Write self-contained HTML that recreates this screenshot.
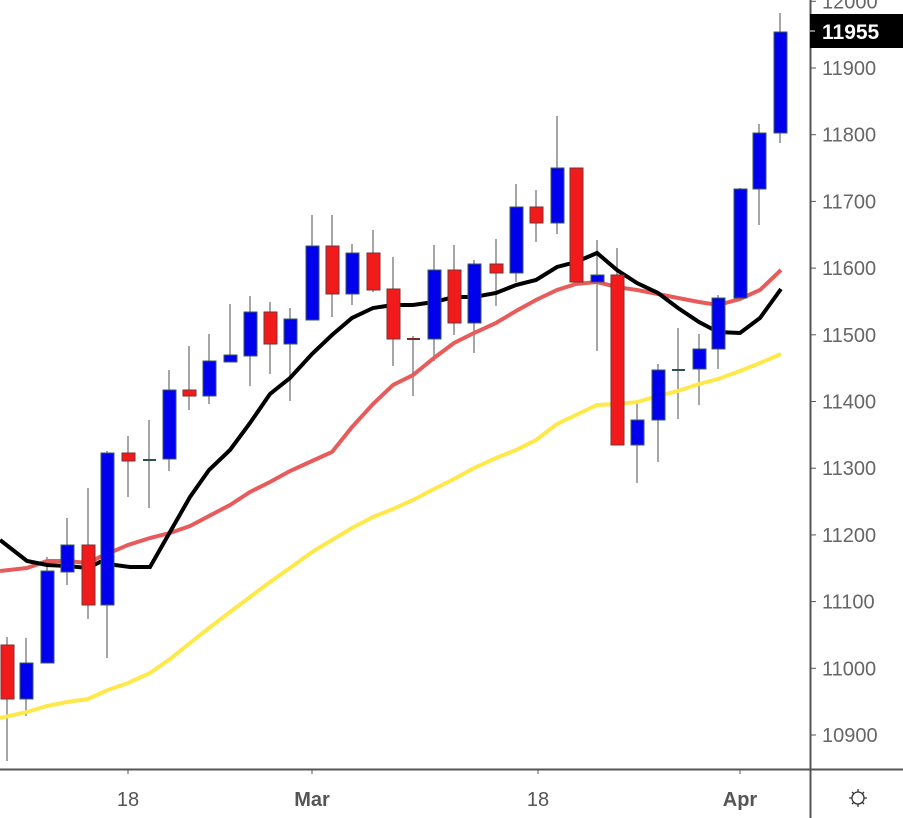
<!DOCTYPE html>
<html><head><meta charset="utf-8"><style>
body{margin:0;background:#fff;width:903px;height:818px;overflow:hidden}
svg{display:block;font-family:"Liberation Sans",sans-serif}
</style></head><body>
<svg id="s" width="903" height="818" viewBox="0 0 903 818" xmlns="http://www.w3.org/2000/svg">
<g id="c"></g>
<polyline fill="none" stroke="#ffe94a" stroke-width="4" points="0,718 27,712 47,706 67,702 88,699 108,690 128,683 150,673 170,659 190,643 209,628 230,612 250,597 270,582 290,568 312,552 332,540 352,528 373,517 393,509 413,500 434,489 454,479 474,468 496,458 516,450 536,440 557,424 576,415 597,405 617,404 637,402 658,396 678,391 699,384 718,379 740,371 760,363 781,354"/>
<polyline fill="none" stroke="#e85b5b" stroke-width="4" points="0,571 27,568 47,561 67,561 88,563 100,557 128,545 150,538 170,533 190,526 209,516 230,505 250,492 270,482 290,471 312,461 332,452 352,427 373,404 393,385 413,375 434,358 454,343 474,333 496,323 516,311 536,300 557,290 576,284 597,282 617,287 637,290 658,294 678,298 699,302 718,305 740,299 760,290 781,270"/>
<polyline fill="none" stroke="#000" stroke-width="4" points="0,540 27,561 47,565 67,566 88,568 100,562 115,565 130,567 150,567 170,532 190,497 209,470 230,450 250,423 270,394 290,378 312,354 332,335 352,318 373,308 393,305 413,305 434,302 454,297 474,297 496,293 516,285 536,280 557,267 576,262 597,253 617,270 637,283 658,293 678,308 699,322 718,332 740,333 760,318 781,289"/>
<g id="d"></g>
<line x1="0" y1="769.5" x2="903" y2="769.5" stroke="#555" stroke-width="2"/>
<line x1="810.5" y1="0" x2="810.5" y2="818" stroke="#555" stroke-width="2"/>
<g id="ax" fill="#666" font-size="20"></g>
<rect x="810" y="14" width="93" height="34" fill="#000"/>
<text x="822" y="39" fill="#fff" font-size="21" font-weight="bold">11955</text>
<line x1="810" y1="31" x2="815" y2="31" stroke="#fff"/>
<g fill="#555" font-size="20" font-weight="bold" text-anchor="middle">
<text x="128" y="806" font-weight="normal">18</text>
<text x="312" y="806">Mar</text>
<text x="538" y="806" font-weight="normal">18</text>
<text x="740" y="806">Apr</text>
</g>
<g stroke="#555"><line x1="128" y1="770" x2="128" y2="774"/><line x1="312" y1="770" x2="312" y2="774"/><line x1="538" y1="770" x2="538" y2="774"/><line x1="740" y1="770" x2="740" y2="774"/></g>
<g stroke="#333" stroke-width="1.3" fill="none"><circle cx="858" cy="798" r="6"/>
<path d="M858 789v3M858 804v3M849 798h3M864 798h3M852 792l2 2M862 802l2 2M864 792l-2 2M852 804l2-2"/></g>
</svg>
<script>
var C=[[7,'r',645,699,637,761],[26,'b',663,699,638,716],[47,'b',571,663,557,663],[67,'b',545,572,518,585],[88,'r',545,605,488,619],[107,'b',453,605,451,658],[128,'r',453,461,436,497],[149,'d',460,460,420,508],[169,'b',390,459,370,471],[189,'r',390,396,346,410],[209,'b',361,396,334,404],[230,'b',355,362,304,362],[250,'b',312,356,296,386],[270,'r',312,344,302,374],[290,'b',319,344,308,401],[312,'b',246,320,215,320],[332,'r',246,294,215,317],[352,'b',253,294,244,305],[373,'r',253,290,230,292],[393,'r',289,339,257,366],[413,'dr',339,339,336,396],[434,'b',270,339,245,361],[454,'r',270,323,245,335],[474,'b',264,323,260,353],[496,'r',264,273,239,306],[516,'b',207,273,184,282],[536,'r',207,223,190,242],[557,'b',168,223,116,234],[576,'r',168,282,168,282],[597,'b',275,282,240,351],[617,'r',275,445,248,445],[637,'b',420,445,402,483],[658,'b',370,420,364,462],[678,'d',370,370,328,419],[699,'b',349,369,334,405],[718,'b',298,349,295,369],[740,'b',189,298,188,298],[759,'b',133,189,124,225],[780,'b',32,133,13,143]];
var g=document.getElementById('c'),d=document.getElementById('d'),h='',h2='';
C.forEach(function(c){var x=c[0];h+='<line x1="'+x+'" x2="'+x+'" y1="'+c[4]+'" y2="'+c[5]+'" stroke="#888" stroke-width="1.5"/>';
if(c[1][0]=='d'){h2+='<rect x="'+(x-6)+'" y="'+(c[2]-1)+'" width="13" height="2" fill="'+(c[1]=='dr'?'#7a2a2a':'#2d5050')+'"/>';}
else{h2+='<rect x="'+(x-6)+'" y="'+c[2]+'" width="13" height="'+Math.max(2,c[3]-c[2])+'" fill="'+(c[1]=='r'?'#f21b1b':'#0000ee')+'" stroke="'+(c[1]=='r'?'#7a3030':'#3a5a5a')+'" stroke-width="1"/>';}});
g.innerHTML=h;d.innerHTML=h2;
var ax='';for(var p=10900;p<=12000;p+=100){var y=735-(p-10900)*0.667;ax+='<line x1="810" x2="816" y1="'+y+'" y2="'+y+'" stroke="#555"/>';ax+='<text x="822" y="'+(y+7)+'">'+p+'</text>';}
document.getElementById('ax').innerHTML=ax;
</script>
</body></html>
